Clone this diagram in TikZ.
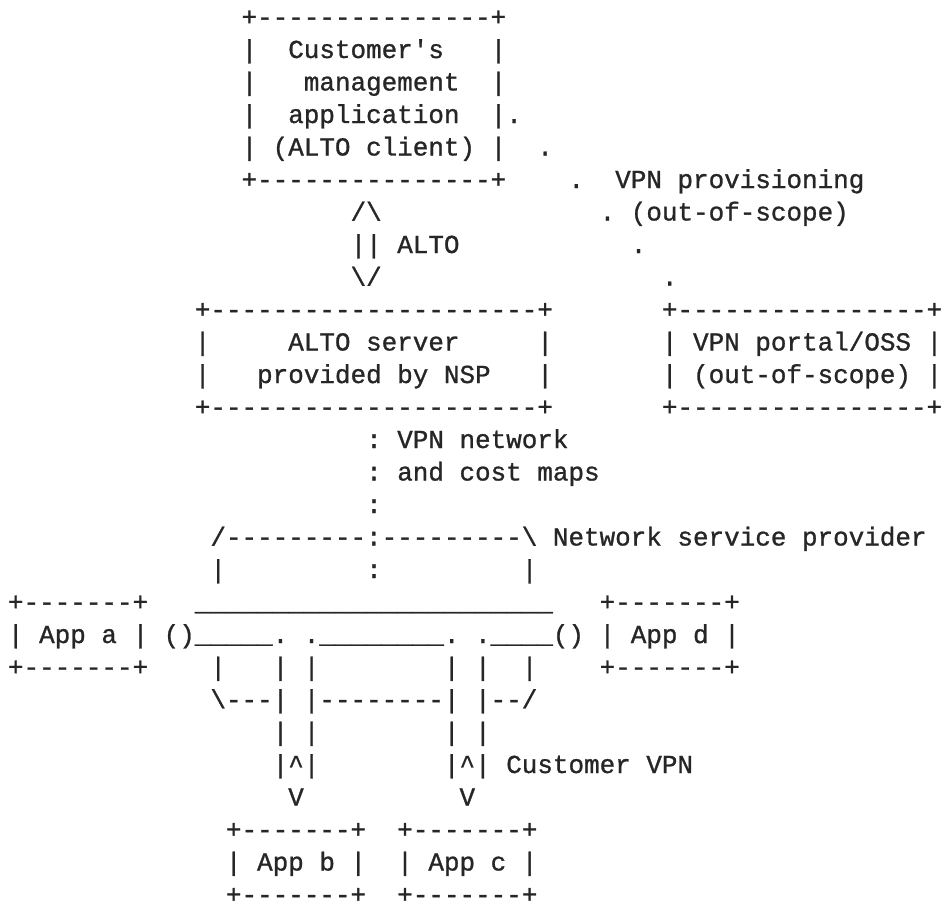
\documentclass[tikz,border=0pt]{standalone}
\usepackage{fontspec}
\setmonofont[FakeBold=1]{Liberation Mono}
\usetikzlibrary{positioning}
\definecolor{inkc}{RGB}{38,38,38}
\tikzset{
  txt/.style={inner sep=0pt, outer sep=0pt, anchor=base west, text=inkc, text depth=0pt,
    font=\ttfamily\fontsize{19.46}{19.46}\selectfont}
}
\newcommand\seg[4]{\node[txt] (#1) at ({8.0+15.57*(#2)},{25.5+32.5*((#3)-1)}) {#4};}
\begin{document}
\begin{tikzpicture}[x=0.75pt,y=-0.75pt]
\fill[white] (0,0) rectangle (942,903);
\useasboundingbox (0,0) rectangle (942,903);
% Customer's management application
\seg{cmaT}{15}{1}{+---------------+}
\seg{cmaL2}{15}{2}{|}\seg{cmaTx1}{18}{2}{Customer's}\seg{cmaR2}{31}{2}{|}
\seg{cmaL3}{15}{3}{|}\seg{cmaTx2}{19}{3}{management}\seg{cmaR3}{31}{3}{|}
\seg{cmaL4}{15}{4}{|}\seg{cmaTx3}{18}{4}{application}\seg{cmaR4}{31}{4}{|}\seg{dot1}{32}{4}{.}
\seg{cmaL5}{15}{5}{|}\seg{cmaTx4}{17}{5}{(ALTO client)}\seg{cmaR5}{31}{5}{|}\seg{dot2}{34}{5}{.}
\seg{cmaB}{15}{6}{+---------------+}\seg{dot3}{36}{6}{.}\seg{vpnprov}{39}{6}{VPN provisioning}
% ALTO arrow
\seg{arrT}{22}{7}{/\textbackslash}\seg{dot4}{38}{7}{.}\seg{oos1}{40}{7}{(out-of-scope)}
\seg{arrM}{22}{8}{||}\seg{altolbl}{25}{8}{ALTO}\seg{dot5}{40}{8}{.}
\seg{arrB}{22}{9}{\textbackslash/}\seg{dot6}{42}{9}{.}
% ALTO server and VPN portal
\seg{srvT}{12}{10}{+---------------------+}\seg{vpT}{42}{10}{+----------------+}
\seg{srvL1}{12}{11}{|}\seg{srvTx1}{18}{11}{ALTO server}\seg{srvR1}{34}{11}{|}
\seg{vpL1}{42}{11}{|}\seg{vpTx1}{44}{11}{VPN portal/OSS}\seg{vpR1}{59}{11}{|}
\seg{srvL2}{12}{12}{|}\seg{srvTx2}{16}{12}{provided by NSP}\seg{srvR2}{34}{12}{|}
\seg{vpL2}{42}{12}{|}\seg{vpTx2}{44}{12}{(out-of-scope)}\seg{vpR2}{59}{12}{|}
\seg{srvB}{12}{13}{+---------------------+}\seg{vpB}{42}{13}{+----------------+}
% maps
\seg{map1}{23}{14}{: VPN network}
\seg{map2}{23}{15}{: and cost maps}
\seg{map3}{23}{16}{:}
% NSP network
\seg{nspT}{13}{17}{/---------:---------\textbackslash{} Network service provider}
\seg{nspL}{13}{18}{|}\seg{nspC}{23}{18}{:}\seg{nspR}{33}{18}{|}
\seg{appaT}{0}{19}{+-------+}
\seg{vpnTop}{12}{19}{\_\_\_\_\_\_\_\_\_\_\_\_\_\_\_\_\_\_\_\_\_\_\_}
\seg{appdT}{38}{19}{+-------+}
\seg{appa}{0}{20}{| App a |}
\seg{vpnMid}{10}{20}{()\_\_\_\_\_. .\_\_\_\_\_\_\_\_. .\_\_\_\_()}
\seg{appd}{38}{20}{| App d |}
\seg{appaB}{0}{21}{+-------+}
\seg{v1}{13}{21}{|}\seg{v2}{17}{21}{|}\seg{v3}{19}{21}{|}
\seg{v4}{28}{21}{|}\seg{v5}{30}{21}{|}\seg{v6}{33}{21}{|}
\seg{appdB}{38}{21}{+-------+}
\seg{nspB}{13}{22}{\textbackslash---| |--------| |--/}
\seg{stemb1}{17}{23}{| |}\seg{stemc1}{28}{23}{| |}
\seg{stemb2}{17}{24}{|\textasciicircum|}\seg{stemc2}{28}{24}{|\textasciicircum|}
\seg{custvpn}{32}{24}{Customer VPN}
\seg{arrb}{18}{25}{V}\seg{arrc}{29}{25}{V}
% App b, App c
\seg{appbT}{14}{26}{+-------+}\seg{appcT}{25}{26}{+-------+}
\seg{appb}{14}{27}{| App b |}\seg{appc}{25}{27}{| App c |}
\seg{appbB}{14}{28}{+-------+}\seg{appcB}{25}{28}{+-------+}
\end{tikzpicture}
\end{document}
